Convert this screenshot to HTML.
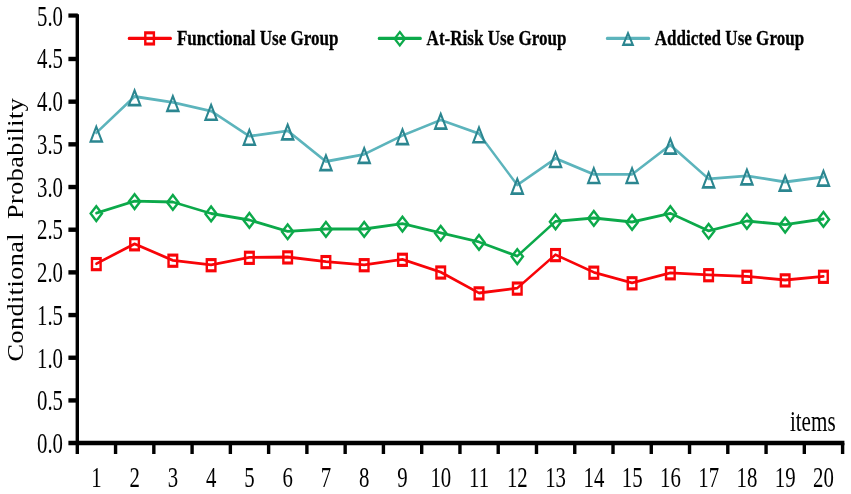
<!DOCTYPE html>
<html lang="en"><head><meta charset="utf-8"><title>Conditional Probability by items</title>
<style>html,body{margin:0;padding:0;background:#fff}body{width:851px;height:494px;overflow:hidden}svg{display:block;filter:blur(0.35px)}text{font-family:"Liberation Serif",serif;fill:#000}</style></head><body>
<svg width="851" height="494" viewBox="0 0 851 494">
<rect width="851" height="494" fill="#fff"/>
<g stroke="#000" fill="none" stroke-linecap="butt">
<path d="M77.3 14.3V454.0" stroke-width="3.4"/>
<path d="M68.4 443.0H844.4" stroke-width="4.5"/>
<path d="M68.4 400.42H77.3" stroke-width="4.4"/>
<path d="M68.4 357.74H77.3" stroke-width="4.4"/>
<path d="M68.4 315.06H77.3" stroke-width="4.4"/>
<path d="M68.4 272.38H77.3" stroke-width="4.4"/>
<path d="M68.4 229.7H77.3" stroke-width="4.4"/>
<path d="M68.4 187.02H77.3" stroke-width="4.4"/>
<path d="M68.4 144.34H77.3" stroke-width="4.4"/>
<path d="M68.4 101.66H77.3" stroke-width="4.4"/>
<path d="M68.4 58.98H77.3" stroke-width="4.4"/>
<path d="M68.4 15.55H77.8" stroke-width="4.2"/>
<path d="M115.56 443.0V454.0" stroke-width="3.4"/>
<path d="M153.83 443.0V454.0" stroke-width="3.4"/>
<path d="M192.09 443.0V454.0" stroke-width="3.4"/>
<path d="M230.36 443.0V454.0" stroke-width="3.4"/>
<path d="M268.62 443.0V454.0" stroke-width="3.4"/>
<path d="M306.89 443.0V454.0" stroke-width="3.4"/>
<path d="M345.16 443.0V454.0" stroke-width="3.4"/>
<path d="M383.42 443.0V454.0" stroke-width="3.4"/>
<path d="M421.69 443.0V454.0" stroke-width="3.4"/>
<path d="M459.95 443.0V454.0" stroke-width="3.4"/>
<path d="M498.22 443.0V454.0" stroke-width="3.4"/>
<path d="M536.48 443.0V454.0" stroke-width="3.4"/>
<path d="M574.75 443.0V454.0" stroke-width="3.4"/>
<path d="M613.01 443.0V454.0" stroke-width="3.4"/>
<path d="M651.27 443.0V454.0" stroke-width="3.4"/>
<path d="M689.54 443.0V454.0" stroke-width="3.4"/>
<path d="M727.8 443.0V454.0" stroke-width="3.4"/>
<path d="M766.07 443.0V454.0" stroke-width="3.4"/>
<path d="M804.33 443.0V454.0" stroke-width="3.4"/>
<path d="M842.6 443.0V454.0" stroke-width="3.4"/>
</g>
<g transform="scale(1,1.3)">
<polyline points="96.3,102.23 134.57,74.23 172.84,78.69 211.11,85.46 249.38,104.77 287.65,100.62 325.92,124.23 364.19,118.69 402.46,104.23 440.73,92.31 479,102.85 517.27,142.31 555.54,121.85 593.81,134.15 632.08,134.15 670.35,111.54 708.62,137.54 746.89,135.23 785.16,140 823.43,136.15" fill="none" stroke="#5cb4bc" stroke-width="2.15" stroke-linejoin="round" stroke-linecap="round"/>
<path d="M96.3 97.48L101.98 108.84L90.62 108.84Z" fill="none" stroke="#2b8690" stroke-width="2.0" stroke-linejoin="miter"/>
<path d="M134.57 69.48L140.25 80.84L128.89 80.84Z" fill="none" stroke="#2b8690" stroke-width="2.0" stroke-linejoin="miter"/>
<path d="M172.84 73.94L178.52 85.3L167.16 85.3Z" fill="none" stroke="#2b8690" stroke-width="2.0" stroke-linejoin="miter"/>
<path d="M211.11 80.71L216.79 92.07L205.43 92.07Z" fill="none" stroke="#2b8690" stroke-width="2.0" stroke-linejoin="miter"/>
<path d="M249.38 100.02L255.06 111.38L243.7 111.38Z" fill="none" stroke="#2b8690" stroke-width="2.0" stroke-linejoin="miter"/>
<path d="M287.65 95.86L293.33 107.22L281.97 107.22Z" fill="none" stroke="#2b8690" stroke-width="2.0" stroke-linejoin="miter"/>
<path d="M325.92 119.48L331.6 130.84L320.24 130.84Z" fill="none" stroke="#2b8690" stroke-width="2.0" stroke-linejoin="miter"/>
<path d="M364.19 113.94L369.87 125.3L358.51 125.3Z" fill="none" stroke="#2b8690" stroke-width="2.0" stroke-linejoin="miter"/>
<path d="M402.46 99.48L408.14 110.84L396.78 110.84Z" fill="none" stroke="#2b8690" stroke-width="2.0" stroke-linejoin="miter"/>
<path d="M440.73 87.56L446.41 98.92L435.05 98.92Z" fill="none" stroke="#2b8690" stroke-width="2.0" stroke-linejoin="miter"/>
<path d="M479 98.09L484.68 109.45L473.32 109.45Z" fill="none" stroke="#2b8690" stroke-width="2.0" stroke-linejoin="miter"/>
<path d="M517.27 137.56L522.95 148.92L511.59 148.92Z" fill="none" stroke="#2b8690" stroke-width="2.0" stroke-linejoin="miter"/>
<path d="M555.54 117.09L561.22 128.45L549.86 128.45Z" fill="none" stroke="#2b8690" stroke-width="2.0" stroke-linejoin="miter"/>
<path d="M593.81 129.4L599.49 140.76L588.13 140.76Z" fill="none" stroke="#2b8690" stroke-width="2.0" stroke-linejoin="miter"/>
<path d="M632.08 129.4L637.76 140.76L626.4 140.76Z" fill="none" stroke="#2b8690" stroke-width="2.0" stroke-linejoin="miter"/>
<path d="M670.35 106.79L676.03 118.15L664.67 118.15Z" fill="none" stroke="#2b8690" stroke-width="2.0" stroke-linejoin="miter"/>
<path d="M708.62 132.79L714.3 144.15L702.94 144.15Z" fill="none" stroke="#2b8690" stroke-width="2.0" stroke-linejoin="miter"/>
<path d="M746.89 130.48L752.57 141.84L741.21 141.84Z" fill="none" stroke="#2b8690" stroke-width="2.0" stroke-linejoin="miter"/>
<path d="M785.16 135.25L790.84 146.61L779.48 146.61Z" fill="none" stroke="#2b8690" stroke-width="2.0" stroke-linejoin="miter"/>
<path d="M823.43 131.4L829.11 142.76L817.75 142.76Z" fill="none" stroke="#2b8690" stroke-width="2.0" stroke-linejoin="miter"/>
<polyline points="96.3,164 134.57,154.77 172.84,155.38 211.11,164.23 249.38,169.23 287.65,178 325.92,176.15 364.19,176.15 402.46,172.08 440.73,179.15 479,186.15 517.27,197.08 555.54,170.31 593.81,167.69 632.08,170.77 670.35,164.08 708.62,177.62 746.89,170 785.16,172.85 823.43,168.46" fill="none" stroke="#0ca94a" stroke-width="2.15" stroke-linejoin="round" stroke-linecap="round"/>
<path d="M96.3 158.66L101.95 164.31L96.3 169.96L90.65 164.31Z" fill="none" stroke="#0ca94a" stroke-width="2.15" stroke-linejoin="miter"/>
<path d="M134.57 149.43L140.22 155.08L134.57 160.73L128.92 155.08Z" fill="none" stroke="#0ca94a" stroke-width="2.15" stroke-linejoin="miter"/>
<path d="M172.84 150.04L178.49 155.69L172.84 161.34L167.19 155.69Z" fill="none" stroke="#0ca94a" stroke-width="2.15" stroke-linejoin="miter"/>
<path d="M211.11 158.89L216.76 164.54L211.11 170.19L205.46 164.54Z" fill="none" stroke="#0ca94a" stroke-width="2.15" stroke-linejoin="miter"/>
<path d="M249.38 163.89L255.03 169.54L249.38 175.19L243.73 169.54Z" fill="none" stroke="#0ca94a" stroke-width="2.15" stroke-linejoin="miter"/>
<path d="M287.65 172.66L293.3 178.31L287.65 183.96L282 178.31Z" fill="none" stroke="#0ca94a" stroke-width="2.15" stroke-linejoin="miter"/>
<path d="M325.92 170.81L331.57 176.46L325.92 182.11L320.27 176.46Z" fill="none" stroke="#0ca94a" stroke-width="2.15" stroke-linejoin="miter"/>
<path d="M364.19 170.81L369.84 176.46L364.19 182.11L358.54 176.46Z" fill="none" stroke="#0ca94a" stroke-width="2.15" stroke-linejoin="miter"/>
<path d="M402.46 166.73L408.11 172.38L402.46 178.03L396.81 172.38Z" fill="none" stroke="#0ca94a" stroke-width="2.15" stroke-linejoin="miter"/>
<path d="M440.73 173.81L446.38 179.46L440.73 185.11L435.08 179.46Z" fill="none" stroke="#0ca94a" stroke-width="2.15" stroke-linejoin="miter"/>
<path d="M479 180.81L484.65 186.46L479 192.11L473.35 186.46Z" fill="none" stroke="#0ca94a" stroke-width="2.15" stroke-linejoin="miter"/>
<path d="M517.27 191.73L522.92 197.38L517.27 203.03L511.62 197.38Z" fill="none" stroke="#0ca94a" stroke-width="2.15" stroke-linejoin="miter"/>
<path d="M555.54 164.97L561.19 170.62L555.54 176.27L549.89 170.62Z" fill="none" stroke="#0ca94a" stroke-width="2.15" stroke-linejoin="miter"/>
<path d="M593.81 162.35L599.46 168L593.81 173.65L588.16 168Z" fill="none" stroke="#0ca94a" stroke-width="2.15" stroke-linejoin="miter"/>
<path d="M632.08 165.43L637.73 171.08L632.08 176.73L626.43 171.08Z" fill="none" stroke="#0ca94a" stroke-width="2.15" stroke-linejoin="miter"/>
<path d="M670.35 158.73L676 164.38L670.35 170.03L664.7 164.38Z" fill="none" stroke="#0ca94a" stroke-width="2.15" stroke-linejoin="miter"/>
<path d="M708.62 172.27L714.27 177.92L708.62 183.57L702.97 177.92Z" fill="none" stroke="#0ca94a" stroke-width="2.15" stroke-linejoin="miter"/>
<path d="M746.89 164.66L752.54 170.31L746.89 175.96L741.24 170.31Z" fill="none" stroke="#0ca94a" stroke-width="2.15" stroke-linejoin="miter"/>
<path d="M785.16 167.5L790.81 173.15L785.16 178.8L779.51 173.15Z" fill="none" stroke="#0ca94a" stroke-width="2.15" stroke-linejoin="miter"/>
<path d="M823.43 163.12L829.08 168.77L823.43 174.42L817.78 168.77Z" fill="none" stroke="#0ca94a" stroke-width="2.15" stroke-linejoin="miter"/>
<polyline points="96.3,202.85 134.57,187.62 172.84,200.23 211.11,203.69 249.38,198 287.65,197.69 325.92,201.31 364.19,203.69 402.46,199.54 440.73,209.31 479,225.38 517.27,221.69 555.54,195.92 593.81,209.46 632.08,217.62 670.35,209.92 708.62,211.38 746.89,212.62 785.16,215.38 823.43,212.62" fill="none" stroke="#f80408" stroke-width="2.15" stroke-linejoin="round" stroke-linecap="round"/>
<rect x="92" y="198.85" width="8.6" height="8.6" fill="none" stroke="#f80408" stroke-width="2.4"/>
<rect x="130.27" y="183.62" width="8.6" height="8.6" fill="none" stroke="#f80408" stroke-width="2.4"/>
<rect x="168.54" y="196.24" width="8.6" height="8.6" fill="none" stroke="#f80408" stroke-width="2.4"/>
<rect x="206.81" y="199.7" width="8.6" height="8.6" fill="none" stroke="#f80408" stroke-width="2.4"/>
<rect x="245.08" y="194.01" width="8.6" height="8.6" fill="none" stroke="#f80408" stroke-width="2.4"/>
<rect x="283.35" y="193.7" width="8.6" height="8.6" fill="none" stroke="#f80408" stroke-width="2.4"/>
<rect x="321.62" y="197.32" width="8.6" height="8.6" fill="none" stroke="#f80408" stroke-width="2.4"/>
<rect x="359.89" y="199.7" width="8.6" height="8.6" fill="none" stroke="#f80408" stroke-width="2.4"/>
<rect x="398.16" y="195.55" width="8.6" height="8.6" fill="none" stroke="#f80408" stroke-width="2.4"/>
<rect x="436.43" y="205.32" width="8.6" height="8.6" fill="none" stroke="#f80408" stroke-width="2.4"/>
<rect x="474.7" y="221.39" width="8.6" height="8.6" fill="none" stroke="#f80408" stroke-width="2.4"/>
<rect x="512.97" y="217.7" width="8.6" height="8.6" fill="none" stroke="#f80408" stroke-width="2.4"/>
<rect x="551.24" y="191.93" width="8.6" height="8.6" fill="none" stroke="#f80408" stroke-width="2.4"/>
<rect x="589.51" y="205.47" width="8.6" height="8.6" fill="none" stroke="#f80408" stroke-width="2.4"/>
<rect x="627.78" y="213.62" width="8.6" height="8.6" fill="none" stroke="#f80408" stroke-width="2.4"/>
<rect x="666.05" y="205.93" width="8.6" height="8.6" fill="none" stroke="#f80408" stroke-width="2.4"/>
<rect x="704.32" y="207.39" width="8.6" height="8.6" fill="none" stroke="#f80408" stroke-width="2.4"/>
<rect x="742.59" y="208.62" width="8.6" height="8.6" fill="none" stroke="#f80408" stroke-width="2.4"/>
<rect x="780.86" y="211.39" width="8.6" height="8.6" fill="none" stroke="#f80408" stroke-width="2.4"/>
<rect x="819.13" y="208.62" width="8.6" height="8.6" fill="none" stroke="#f80408" stroke-width="2.4"/>
<path d="M129 29.54H170.7" stroke="#f80408" stroke-width="2.45" fill="none" stroke-linecap="round"/>
<rect x="145.3" y="25.24" width="8.6" height="8.6" fill="none" stroke="#f80408" stroke-width="2.4"/>
<path d="M379 29.54H420.6" stroke="#0ca94a" stroke-width="2.45" fill="none" stroke-linecap="round"/>
<path d="M399.8 24.62L404.95 29.77L399.8 34.92L394.65 29.77Z" fill="none" stroke="#0ca94a" stroke-width="2.0" stroke-linejoin="miter"/>
<path d="M607.1 29.54H648.9" stroke="#5cb4bc" stroke-width="2.45" fill="none" stroke-linecap="round"/>
<path d="M628 25.54L632.8 34.49L623.2 34.49Z" fill="none" stroke="#2b8690" stroke-width="1.9" stroke-linejoin="miter"/>
</g>
<text transform="translate(63,453) scale(1,1.39)" font-size="20.8" text-anchor="end" font-weight="normal">0.0</text>
<text transform="translate(63,410.26) scale(1,1.39)" font-size="20.8" text-anchor="end" font-weight="normal">0.5</text>
<text transform="translate(63,367.52) scale(1,1.39)" font-size="20.8" text-anchor="end" font-weight="normal">1.0</text>
<text transform="translate(63,324.78) scale(1,1.39)" font-size="20.8" text-anchor="end" font-weight="normal">1.5</text>
<text transform="translate(63,282.04) scale(1,1.39)" font-size="20.8" text-anchor="end" font-weight="normal">2.0</text>
<text transform="translate(63,239.3) scale(1,1.39)" font-size="20.8" text-anchor="end" font-weight="normal">2.5</text>
<text transform="translate(63,196.56) scale(1,1.39)" font-size="20.8" text-anchor="end" font-weight="normal">3.0</text>
<text transform="translate(63,153.82) scale(1,1.39)" font-size="20.8" text-anchor="end" font-weight="normal">3.5</text>
<text transform="translate(63,111.08) scale(1,1.39)" font-size="20.8" text-anchor="end" font-weight="normal">4.0</text>
<text transform="translate(63,68.34) scale(1,1.39)" font-size="20.8" text-anchor="end" font-weight="normal">4.5</text>
<text transform="translate(63,25.6) scale(1,1.39)" font-size="20.8" text-anchor="end" font-weight="normal">5.0</text>
<text transform="translate(96.43,487) scale(1,1.42)" font-size="20.8" text-anchor="middle" font-weight="normal">1</text>
<text transform="translate(134.7,487) scale(1,1.42)" font-size="20.8" text-anchor="middle" font-weight="normal">2</text>
<text transform="translate(172.96,487) scale(1,1.42)" font-size="20.8" text-anchor="middle" font-weight="normal">3</text>
<text transform="translate(211.23,487) scale(1,1.42)" font-size="20.8" text-anchor="middle" font-weight="normal">4</text>
<text transform="translate(249.49,487) scale(1,1.42)" font-size="20.8" text-anchor="middle" font-weight="normal">5</text>
<text transform="translate(287.76,487) scale(1,1.42)" font-size="20.8" text-anchor="middle" font-weight="normal">6</text>
<text transform="translate(326.02,487) scale(1,1.42)" font-size="20.8" text-anchor="middle" font-weight="normal">7</text>
<text transform="translate(364.29,487) scale(1,1.42)" font-size="20.8" text-anchor="middle" font-weight="normal">8</text>
<text transform="translate(402.55,487) scale(1,1.42)" font-size="20.8" text-anchor="middle" font-weight="normal">9</text>
<text transform="translate(440.82,487) scale(1,1.42)" font-size="20.8" text-anchor="middle" font-weight="normal">10</text>
<text transform="translate(479.08,487) scale(1,1.42)" font-size="20.8" text-anchor="middle" font-weight="normal">11</text>
<text transform="translate(517.35,487) scale(1,1.42)" font-size="20.8" text-anchor="middle" font-weight="normal">12</text>
<text transform="translate(555.61,487) scale(1,1.42)" font-size="20.8" text-anchor="middle" font-weight="normal">13</text>
<text transform="translate(593.88,487) scale(1,1.42)" font-size="20.8" text-anchor="middle" font-weight="normal">14</text>
<text transform="translate(632.14,487) scale(1,1.42)" font-size="20.8" text-anchor="middle" font-weight="normal">15</text>
<text transform="translate(670.41,487) scale(1,1.42)" font-size="20.8" text-anchor="middle" font-weight="normal">16</text>
<text transform="translate(708.67,487) scale(1,1.42)" font-size="20.8" text-anchor="middle" font-weight="normal">17</text>
<text transform="translate(746.94,487) scale(1,1.42)" font-size="20.8" text-anchor="middle" font-weight="normal">18</text>
<text transform="translate(785.2,487) scale(1,1.42)" font-size="20.8" text-anchor="middle" font-weight="normal">19</text>
<text transform="translate(823.47,487) scale(1,1.42)" font-size="20.8" text-anchor="middle" font-weight="normal">20</text>
<text transform="translate(835.6,431.3) scale(1,1.37)" font-size="21.1" text-anchor="end" font-weight="normal">items</text>
<text transform="translate(176.9,45.2) scale(1,1.232)" font-size="17.05" text-anchor="start" font-weight="bold" stroke="#000" stroke-width="0.22">Functional Use Group</text>
<text transform="translate(426.6,45.2) scale(1,1.232)" font-size="17.05" text-anchor="start" font-weight="bold" stroke="#000" stroke-width="0.22">At-Risk Use Group</text>
<text transform="translate(654.8,45.2) scale(1,1.232)" font-size="17.05" text-anchor="start" font-weight="bold" stroke="#000" stroke-width="0.22">Addicted Use Group</text>
<text transform="translate(22.7,361.5) rotate(-90) scale(1.15,1)" font-size="22.7" letter-spacing="0.42" xml:space="preserve" fill="#111">Conditional  Probability</text>
</svg></body></html>
